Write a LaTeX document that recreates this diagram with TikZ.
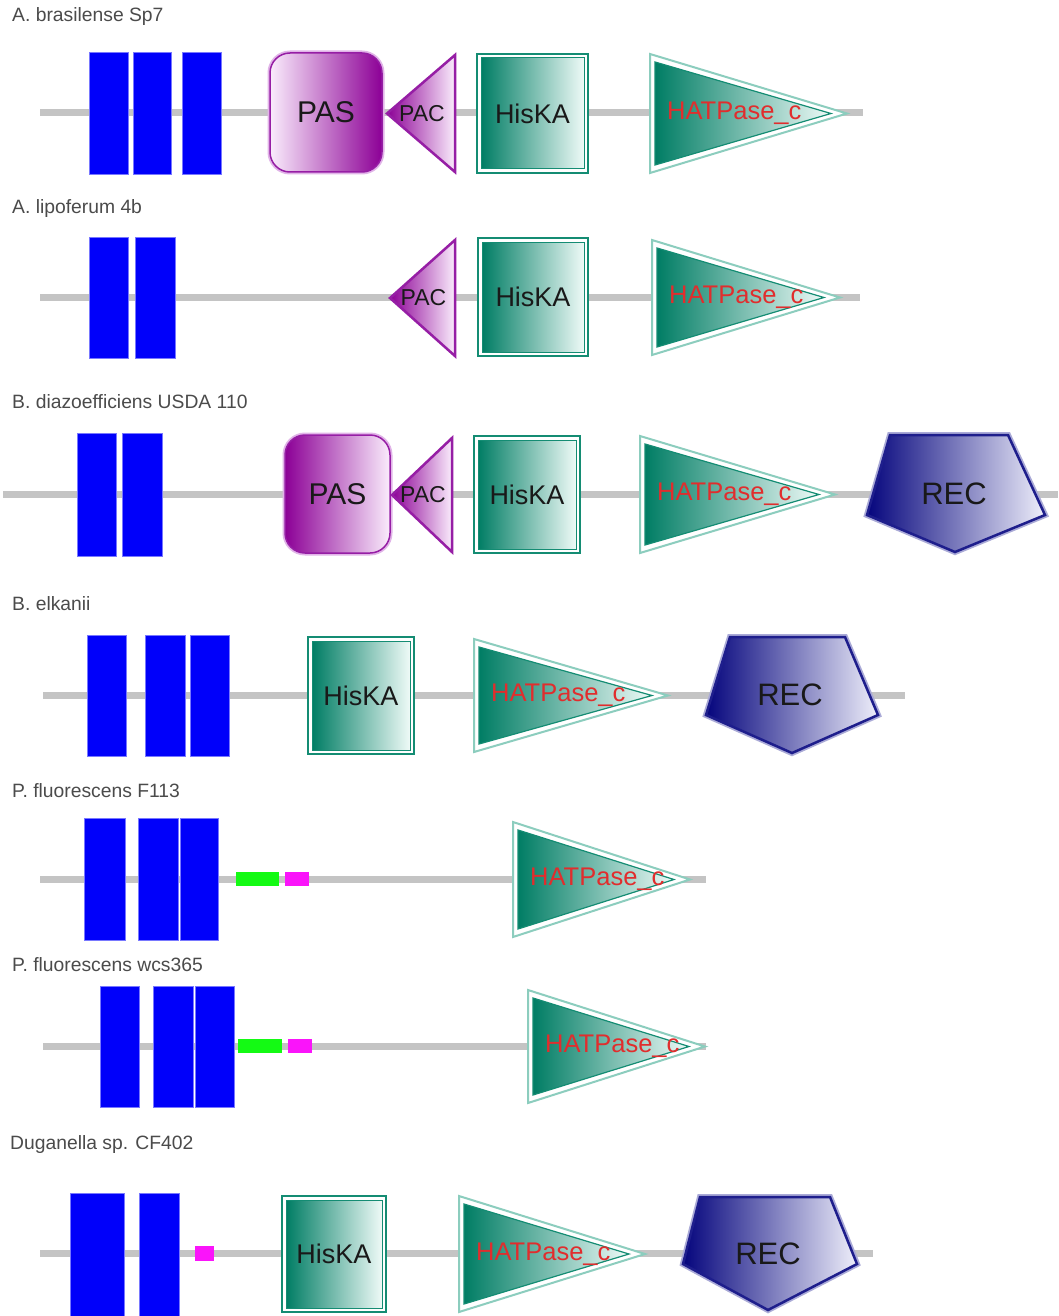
\documentclass[tikz,border=0pt]{standalone}
\usepackage{fontspec}
\setmainfont{Liberation Sans}
\definecolor{tmblue}{RGB}{0,0,250}
\definecolor{tmedge}{RGB}{120,120,255}
\definecolor{pasdark}{RGB}{140,0,150}
\definecolor{paslight}{RGB}{250,236,252}
\definecolor{pasline}{RGB}{150,30,165}
\definecolor{paspale}{RGB}{225,180,232}
\definecolor{hkdark}{RGB}{0,125,100}
\definecolor{hklight}{RGB}{238,250,247}
\definecolor{hkline}{RGB}{20,140,115}
\definecolor{hkpale}{RGB}{140,205,190}
\definecolor{recdark}{RGB}{5,5,125}
\definecolor{reclight}{RGB}{238,238,250}
\definecolor{recline}{RGB}{30,30,140}
\definecolor{recpale}{RGB}{170,170,215}
\definecolor{bbgray}{RGB}{196,196,196}
\definecolor{hatred}{RGB}{225,45,45}
\definecolor{labgray}{RGB}{75,75,75}
\definecolor{domblack}{RGB}{25,25,25}
\definecolor{motgreen}{RGB}{20,250,20}
\definecolor{motmag}{RGB}{250,20,250}
\tikzset{
  backbone/.style={draw=bbgray, line width=7},
  tmseg/.style={fill=tmblue, draw=tmedge, line width=0.8},
  specname/.style={anchor=west, text=labgray, font=\fontsize{19.3}{19.3}\selectfont, inner sep=0},
  domtext/.style={text=domblack, inner sep=0},
  hattext/.style={text=hatred, inner sep=0, anchor=west, font=\fontsize{25.5}{25.5}\selectfont},
  greenmotif/.style={fill=motgreen},
  magmotif/.style={fill=motmag},
}
% transmembrane segment: x1 x2 y1 y2
\newcommand{\TMbox}[4]{\path[tmseg] (#1,#3) rectangle (#2,#4);}
% HisKA: x1 x2 y1 y2 name
\newcommand{\HisKAbox}[5]{%
  \path[draw=hkline, line width=2, fill=white] (#1,#3) rectangle (#2,#4);
  \shade[left color=hkdark, right color=hklight, draw=hkline, line width=1] ({#1+4},{#3+4}) rectangle ({#2-4},{#4-4});
  \node[domtext, font=\fontsize{27}{27}\selectfont] (#5) at ({(#1+#2)/2},{(#3+#4)/2}) {HisKA};}
% HATPase_c: left tip y1 y2 name
\newcommand{\HATbox}[5]{%
  \path[draw=hkpale, line width=2, fill=white, line join=miter] (#1,#3) -- (#2,{(#3+#4)/2}) -- (#1,#4) -- cycle;
  \shade[left color=hkdark, right color=hklight, draw=hkline, line width=1.2, line join=miter] ({#1+5},{#3+8}) -- ({#2-16},{(#3+#4)/2}) -- ({#1+5},{#4-8}) -- cycle;
  \node[hattext] (#5) at ({#1+17},{(#3+#4)/2}) {HATPase\_c};}
% PAS: x1 x2 y1 y2 leftcolor rightcolor name
\newcommand{\PASbox}[7]{%
  \path[draw=paspale, line width=5, rounded corners=20] (#1,#3) rectangle (#2,#4);
  \shade[left color=#5, right color=#6, draw=pasline, line width=1.5, rounded corners=20] (#1,#3) rectangle (#2,#4);
  \node[domtext, font=\fontsize{30}{30}\selectfont] (#7) at ({(#1+#2)/2},{(#3+#4)/2}) {PAS};}
% PAC: tip right y1 y2 name
\newcommand{\PACbox}[5]{%
  \shade[left color=pasdark, right color=paslight, draw=pasline, line width=2.5, line join=miter] (#1,{(#3+#4)/2}) -- (#2,#3) -- (#2,#4) -- cycle;
  \node[domtext, font=\fontsize{23}{23}\selectfont] (#5) at ({(#1+#2)/2+1},{(#3+#4)/2}) {PAC};}
% REC: left topL topR right bottom ytop ymid ybot name
\newcommand{\RECbox}[9]{%
  \path[draw=recpale, line width=6, line join=miter] (#2,#6) -- (#3,#6) -- (#4,#7) -- (#5,#8) -- (#1,#7) -- cycle;
  \shade[left color=recdark, right color=reclight, draw=recline, line width=2.5, line join=miter] (#2,#6) -- (#3,#6) -- (#4,#7) -- (#5,#8) -- (#1,#7) -- cycle;
  \node[domtext, font=\fontsize{31}{31}\selectfont] (#9) at ({(#1+#4)/2-2},{(#6+#8)/2}) {REC};}
\begin{document}
\begin{tikzpicture}[x=1pt, y=-1pt]
\useasboundingbox (0,0) rectangle (1058,1316);
\fill[white] (0,0) rectangle (1058,1316);

% ---------- Row 1: A. brasilense Sp7
\node[specname] (n1) at (12,17) {A. brasilense Sp7};
\coordinate (b1s) at (40,113); \coordinate (b1e) at (863,113);
\draw[backbone] (b1s) -- (b1e);
\TMbox{89}{128}{52}{174}
\TMbox{133}{171}{52}{174}
\TMbox{182}{221}{52}{174}
\PASbox{270}{382}{53}{172}{paslight}{pasdark}{pas1}
\PACbox{387}{455}{55}{172}{pac1}
\HisKAbox{477}{588}{54}{173}{his1}
\HATbox{650}{847}{54}{173}{hat1}

% ---------- Row 2: A. lipoferum 4b
\node[specname] (n2) at (12,209) {A. lipoferum 4b};
\coordinate (b2s) at (40,297); \coordinate (b2e) at (860,297);
\draw[backbone] (b2s) -- (b2e);
\TMbox{89}{128}{237}{358}
\TMbox{135}{175}{237}{358}
\PACbox{390}{455}{240}{356}{pac2}
\HisKAbox{478}{588}{238}{356}{his2}
\HATbox{652}{840}{240}{355}{hat2}

% ---------- Row 3: B. diazoefficiens USDA 110
\node[specname] (n3) at (12,402) {B. diazoefficiens USDA 110};
\coordinate (b3s) at (3,494); \coordinate (b3e) at (1058,494);
\draw[backbone] (b3s) -- (b3e);
\TMbox{77}{116}{433}{556}
\TMbox{122}{162}{433}{556}
\PASbox{285}{390}{435}{553}{pasdark}{paslight}{pas3}
\PACbox{392}{452}{438}{552}{pac3}
\HisKAbox{474}{580}{436}{553}{his3}
\HATbox{640}{835}{436}{553}{hat3}
\RECbox{867}{890}{1008}{1045}{955}{435}{515}{552}{rec3}

% ---------- Row 4: B. elkanii
\node[specname] (n4) at (12,604) {B. elkanii};
\coordinate (b4s) at (43,695); \coordinate (b4e) at (905,695);
\draw[backbone] (b4s) -- (b4e);
\TMbox{87}{126}{635}{756}
\TMbox{145}{185}{635}{756}
\TMbox{190}{229}{635}{756}
\HisKAbox{308}{414}{637}{754}{his4}
\HATbox{474}{668}{639}{752}{hat4}
\RECbox{706}{730}{845}{878}{792}{637}{715}{753}{rec4}

% ---------- Row 5: P. fluorescens F113
\node[specname] (n5) at (12,791) {P. fluorescens F113};
\coordinate (b5s) at (40,879); \coordinate (b5e) at (706,879);
\draw[backbone] (b5s) -- (b5e);
\TMbox{84}{125}{818}{940}
\TMbox{138}{178}{818}{940}
\TMbox{180}{218}{818}{940}
\path[greenmotif] (236,872) rectangle (279,886);
\path[magmotif] (285,872) rectangle (309,886);
\HATbox{513}{690}{822}{937}{hat5}

% ---------- Row 6: P. fluorescens wcs365
\node[specname] (n6) at (12,965) {P. fluorescens wcs365};
\coordinate (b6s) at (43,1046); \coordinate (b6e) at (706,1046);
\draw[backbone] (b6s) -- (b6e);
\TMbox{100}{139}{986}{1107}
\TMbox{153}{193}{986}{1107}
\TMbox{195}{234}{986}{1107}
\path[greenmotif] (238,1039) rectangle (282,1053);
\path[magmotif] (288,1039) rectangle (312,1053);
\HATbox{528}{705}{990}{1103}{hat6}

% ---------- Row 7: Duganella sp. CF402
\node[specname] (n7) at (10,1144) {Duganella sp. CF402};
\coordinate (b7s) at (40,1253); \coordinate (b7e) at (873,1253);
\draw[backbone] (b7s) -- (b7e);
\TMbox{70}{124}{1193}{1318}
\TMbox{139}{179}{1193}{1318}
\path[magmotif] (195,1246) rectangle (214,1261);
\HisKAbox{282}{386}{1196}{1312}{his7}
\HATbox{459}{645}{1196}{1312}{hat7}
\RECbox{683}{700}{830}{857}{768}{1197}{1264}{1310}{rec7}
\end{tikzpicture}
\end{document}
